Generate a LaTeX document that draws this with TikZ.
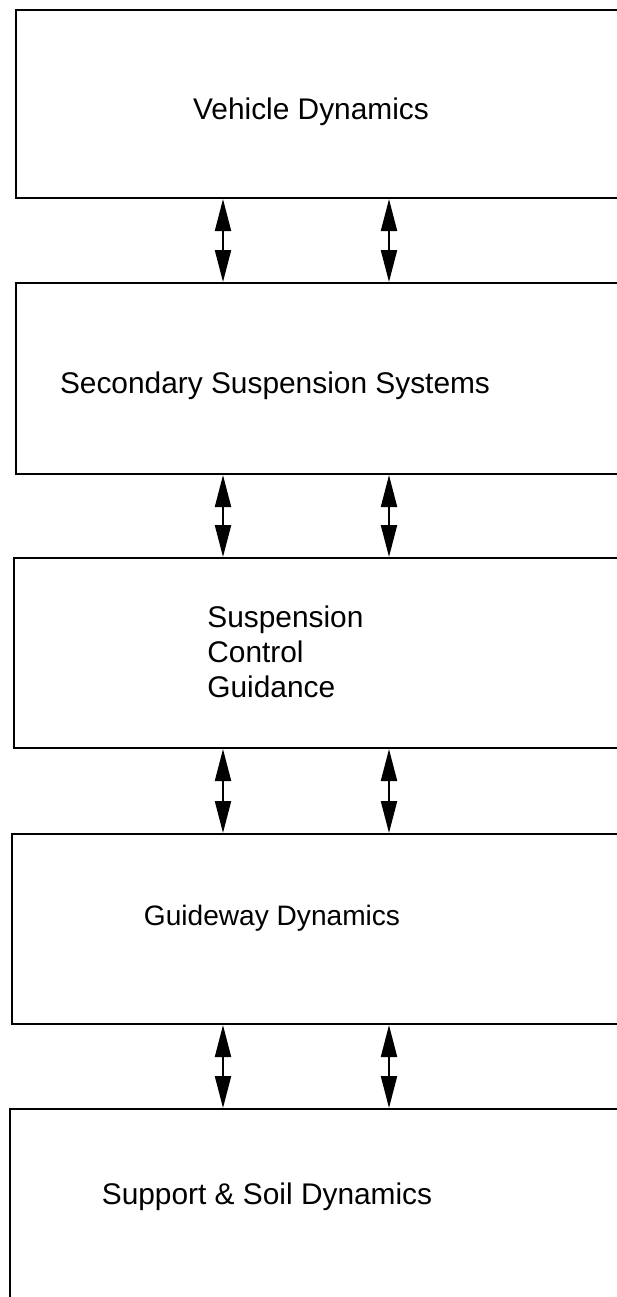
\documentclass[tikz,border=0pt]{standalone}
\usepackage{fontspec}
\setmainfont{Liberation Sans}
\usetikzlibrary{arrows.meta}
\tikzset{
  panel/.style={draw,line width=1.2pt,anchor=north west,minimum width=12.6cm,inner sep=0pt},
  boxtext/.style={font=\fontsize{17}{20}\selectfont,inner sep=0pt},
  link/.style={line width=1.2pt,{Triangle[length=0.64cm,width=0.32cm]}-{Triangle[length=0.64cm,width=0.32cm]}}
}
\begin{document}
\begin{tikzpicture}[x=0.02cm,y=-0.02cm]
    \useasboundingbox (0,0) rectangle (617,1297);
    \clip (0,0) rectangle (617,1297);
    \node[panel,minimum height=3.76cm] (veh) at (15,9) {};
    \node[panel,minimum height=3.82cm] (sec) at (15,282) {};
    \node[panel,minimum height=3.8cm] (ctl) at (13,557) {};
    \node[panel,minimum height=3.8cm] (gw) at (11,833) {};
    \node[panel,minimum height=4.4cm] (soil) at (9,1108) {};
    \node[boxtext] (vehtxt) at (311,112) {Vehicle Dynamics};
    \node[boxtext] (sectxt) at (275,386) {Secondary Suspension Systems};
    \node[boxtext,align=left,anchor=west] (ctltxt) at (207,652) {Suspension\\Control\\Guidance};
    \node[boxtext,font=\fontsize{16}{19}\selectfont] (gwtxt) at (272,918) {Guideway Dynamics};
    \node[boxtext] (soiltxt) at (267,1197) {Support \& Soil Dynamics};
    \coordinate (c1) at (223,0);
    \coordinate (c2) at (389,0);
    \foreach \a/\b in {veh/sec,sec/ctl,ctl/gw,gw/soil} {
      \foreach \c in {c1,c2} {
        \draw[link] (\c |- \a.south) -- (\c |- \b.north);
      }
    }
  \end{tikzpicture}
\end{document}
